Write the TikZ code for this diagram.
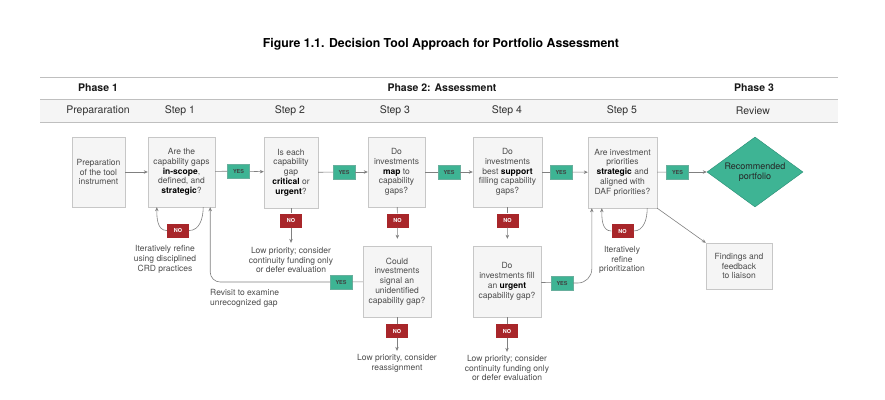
\documentclass[tikz,border=0pt]{standalone}
\usepackage{fontspec}
\setmainfont{TeX Gyre Heros}
\usepackage{tikz}
\usetikzlibrary{arrows.meta,positioning,shapes.geometric}
\definecolor{tealtag}{RGB}{62,180,148}
\definecolor{tealedge}{RGB}{40,140,115}
\definecolor{redtag}{RGB}{168,38,42}
\tikzset{
  box/.style={rectangle,draw=black!22,fill=black!4,align=center,inner sep=1pt,font=\fontsize{8.5}{9.8}\selectfont,text=black!70},
  rec/.style={diamond,aspect=1.37,draw=tealedge,fill=tealtag,align=center,inner sep=0pt,minimum width=96pt,minimum height=70pt,font=\fontsize{9}{10}\selectfont,text=black!85},
  yestag/.style={rectangle,fill=tealtag,draw=tealedge!70,minimum width=22pt,minimum height=14pt,inner sep=0pt,font=\fontsize{5.5}{5.5}\selectfont\bfseries,text=black!75},
  notag/.style={rectangle,fill=redtag,minimum width=22pt,minimum height=14pt,inner sep=0pt,font=\fontsize{5.5}{5.5}\selectfont\bfseries,text=white},
  lab/.style={align=center,inner sep=1pt,font=\fontsize{8.5}{9.8}\selectfont,text=black!70},
  ln/.style={line width=.6pt,black!50},
  arr/.style={ln,-{Stealth[length=4pt,width=3.5pt]}},
  rule/.style={line width=.5pt,black!25},
  hdr/.style={font=\fontsize{10.5}{12}\selectfont,text=black!80},
  phase/.style={font=\fontsize{10.5}{12}\selectfont\bfseries,text=black!90}
}

\begin{document}
\begin{tikzpicture}[x=1pt,y=-1pt]
  \useasboundingbox (0,0) rectangle (885,399);
  \node[font=\fontsize{12.3}{14}\selectfont\bfseries] (title) at (441,44) {Figure 1.1. Decision Tool Approach for Portfolio Assessment};

  % header rows
  \fill[black!4] (40,99) rectangle (838,122);
  \draw[rule] (40,77) -- (838,77);
  \draw[rule] (40,99) -- (838,99);
  \draw[rule] (40,122) -- (838,122);
  \node[phase] (ph1) at (98,88) {Phase 1};
  \node[phase] (ph2) at (442,88) {Phase 2: Assessment};
  \node[phase] (ph3) at (754,88) {Phase 3};
  \node[hdr] (hprep) at (98,111) {Prepararation};
  \node[hdr] (hs1) at (180,111) {Step 1};
  \node[hdr] (hs2) at (290,111) {Step 2};
  \node[hdr] (hs3) at (395,111) {Step 3};
  \node[hdr] (hs4) at (507,111) {Step 4};
  \node[hdr] (hs5) at (622,111) {Step 5};
  \node[hdr] (hrev) at (753,111) {Review};

  % main row
  \node[box,minimum width=53pt,minimum height=70pt] (prep) at (98.5,172) {Preparation\\of the tool\\instrument};
  \node[box,minimum width=67pt,minimum height=70pt] (s1) at (181.5,172) {Are the\\capability gaps\\\textbf{\textcolor{black}{in-scope}},\\defined, and\\\textbf{\textcolor{black}{strategic}}?};
  \node[box,minimum width=54pt,minimum height=71pt] (s2) at (291,172.5) {Is each\\capability\\gap\\\textbf{\textcolor{black}{critical}} or\\\textbf{\textcolor{black}{urgent}}?};
  \node[box,minimum width=57pt,minimum height=70pt] (s3) at (396.5,172) {Do\\investments\\\textbf{\textcolor{black}{map}} to\\capability\\gaps?};
  \node[box,minimum width=69pt,minimum height=70pt] (s4) at (507.5,172) {Do\\investments\\best \textbf{\textcolor{black}{support}}\\filling capability\\gaps?};
  \node[box,minimum width=69pt,minimum height=71pt] (s5) at (622.5,172.5) {Are investment\\priorities\\\textbf{\textcolor{black}{strategic}} and\\aligned with\\DAF priorities?};
  \node[rec] (rec) at (755,172) {Recommended\\portfolio};

  \node[yestag] (yes1) at (238.5,171) {YES};
  \node[yestag] (yes2) at (344,172) {YES};
  \node[yestag] (yes3) at (449,172) {YES};
  \node[yestag] (yes4) at (561,172) {YES};
  \node[yestag] (yes5) at (677.5,172) {YES};

  % second row
  \node[box,minimum width=68pt,minimum height=71pt] (s3b) at (397,281.5) {Could\\investments\\signal an\\unidentified\\capability gap?};
  \node[box,minimum width=68pt,minimum height=71pt] (s4b) at (507,281.5) {Do\\investments fill\\an \textbf{\textcolor{black}{urgent}}\\capability gap?};
  \node[box,minimum width=66pt,minimum height=46pt] (find) at (739,266) {Findings and\\feedback\\to liaison};
  \node[yestag] (yes3b) at (341,282) {YES};
  \node[yestag] (yes4b) at (562,283) {YES};

  \node[notag] (no1) at (178,230.5) {NO};
  \node[notag] (no2) at (291,220.5) {NO};
  \node[notag] (no3) at (397.5,220.5) {NO};
  \node[notag] (no4) at (507.5,220.5) {NO};
  \node[notag] (no5) at (622.5,231) {NO};
  \node[notag] (no3b) at (397,331) {NO};
  \node[notag] (no4b) at (507,331) {NO};

  \node[lab] (it1) at (165,259.5) {Iteratively refine\\using disciplined\\CRD practices};
  \node[lab] (lp2) at (291,260) {Low priority; consider\\continuity funding only\\or defer evaluation};
  \node[lab,align=left,anchor=west] (rev) at (209,298) {Revisit to examine\\unrecognized gap};
  \node[lab] (it5) at (622,260) {Iteratively\\refine\\prioritization};
  \node[lab] (lp3b) at (397,363) {Low priority, consider\\reassignment};
  \node[lab] (lp4b) at (507,368) {Low priority; consider\\continuity funding only\\or defer evaluation};

  % connectors
  \draw[arr] (prep) -- (s1);
  \draw[ln] (s1) -- (yes1);
  \draw[arr] (yes1) -- (s2);
  \draw[ln] (s2) -- (yes2);
  \draw[arr] (yes2) -- (s3);
  \draw[ln] (s3) -- (yes3);
  \draw[arr] (yes3) -- (s4);
  \draw[ln] (s4) -- (yes4);
  \draw[arr] (yes4) -- (s5);
  \draw[ln] (s5) -- (yes5);
  \draw[arr] (yes5) -- (rec);

  \draw[ln] ([xshift=-12pt]s1.south east) to[out=-90,in=0] (no1.east);
  \draw[arr] (no1.west) to[out=180,in=-90] ([xshift=9pt]s1.south west);
  \draw[ln] ([xshift=-10pt]s5.south east) to[out=-90,in=0] (no5.east);
  \draw[arr] (no5.west) to[out=180,in=-90] ([xshift=14pt]s5.south west);

  \draw[ln] (s2) -- (no2);
  \draw[arr,shorten >=3pt] (no2) -- (lp2);
  \draw[ln] (s3) -- (no3);
  \draw[arr,shorten >=7pt] (no3) -- (s3b);
  \draw[ln] (s4) -- (no4);
  \draw[arr,shorten >=7pt] (no4) -- (s4b);
  \draw[ln] (s3b) -- (no3b);
  \draw[arr,shorten >=2pt] (no3b) -- (lp3b);
  \draw[ln] (s4b) -- (no4b);
  \draw[arr,shorten >=2pt] (no4b) -- (lp4b);

  \draw[ln] (s3b) -- (yes3b);
  \draw[arr,rounded corners=10pt] (yes3b.west) -| ([xshift=-5pt]s1.south east);
  \draw[ln] (s4b) -- (yes4b);
  \draw[arr,rounded corners=14pt] (yes4b.east) -| ([xshift=4pt]s5.south west);
  \draw[arr] (s5.south east) -- (find.north west);
\end{tikzpicture}
\end{document}
